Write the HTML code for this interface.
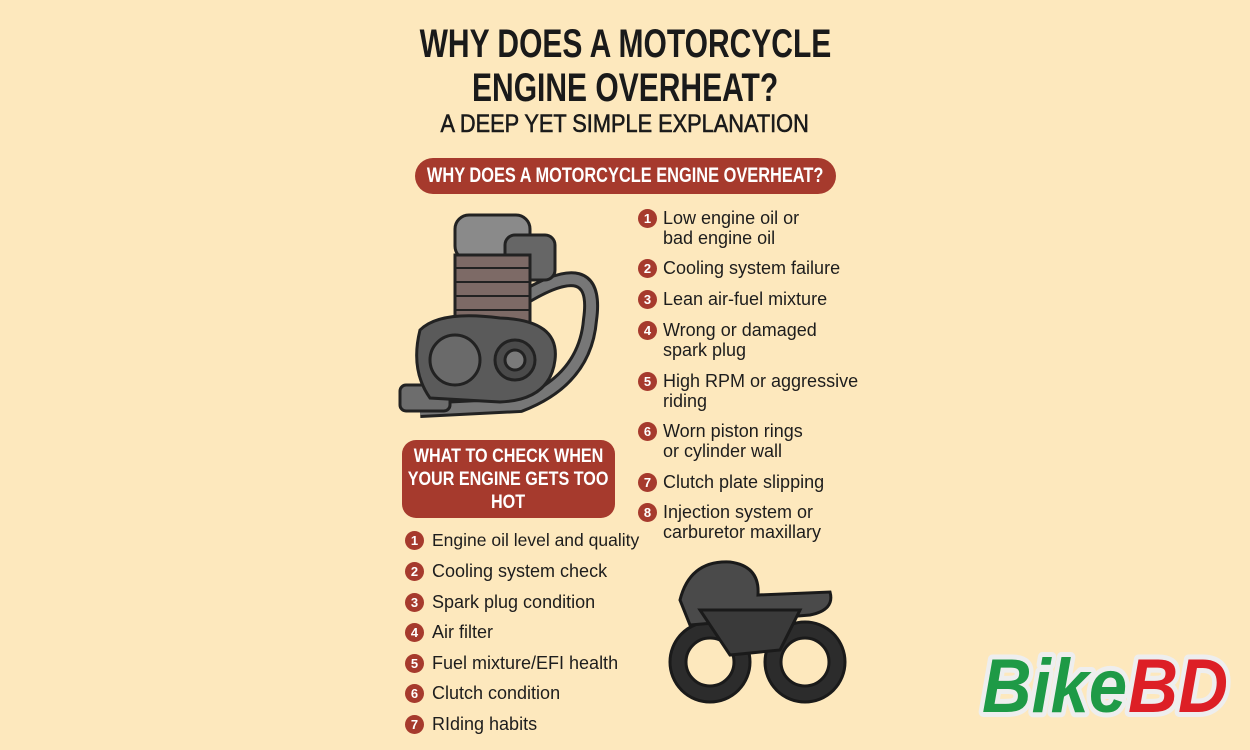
<!DOCTYPE html>
<html><head><meta charset="utf-8"><style>
body{margin:0;width:1250px;height:750px;background:#fde8bd;position:relative;overflow:hidden;font-family:"Liberation Sans",sans-serif;color:#1a1a1a}
.t{position:absolute;left:0;width:1250px;text-align:center;font-weight:bold;white-space:nowrap}
.s{display:inline-block;white-space:nowrap}
.pill{position:absolute;background:#a63a2d;color:#fff;font-weight:bold;border-radius:18px;white-space:nowrap;display:flex;flex-direction:column;align-items:center;justify-content:center}
.pill .s{flex:none}
.it{position:absolute;font-size:18px;line-height:20px;color:#1d1d1d}
.n{position:absolute;width:19px;height:19px;border-radius:50%;background:#a63a2d;color:#fff;font-size:13px;font-weight:bold;text-align:center;line-height:19px}
</style></head><body>
<div class="t" style="top:22px;font-size:40px;line-height:44px"><span class="s" style="transform:scaleX(0.75)">WHY DOES A MOTORCYCLE</span><br><span class="s" style="transform:scaleX(0.75)">ENGINE OVERHEAT?</span></div>
<div class="t" style="top:110px;font-size:25px;line-height:28px;font-weight:normal;-webkit-text-stroke:0.6px #1a1a1a"><span class="s" style="transform:scaleX(0.87)">A DEEP YET SIMPLE EXPLANATION</span></div>
<div class="pill" style="left:415px;top:158px;width:421px;height:36px;font-size:21px"><span class="s" style="transform:scaleX(0.78)">WHY DOES A MOTORCYCLE ENGINE OVERHEAT?</span></div>
<div class="pill" style="left:402px;top:440px;width:213px;height:78px;border-radius:14px;font-size:19px;line-height:23px"><span class="s" style="transform:scaleX(0.85)">WHAT TO CHECK WHEN</span><span class="s" style="transform:scaleX(0.85)">YOUR ENGINE GETS TOO</span><span class="s" style="transform:scaleX(0.85)">HOT</span></div>

<div class="n" style="left:638px;top:209px">1</div><div class="it" style="left:663px;top:208px">Low engine oil or<br>bad engine oil</div>
<div class="n" style="left:638px;top:259px">2</div><div class="it" style="left:663px;top:258px">Cooling system failure</div>
<div class="n" style="left:638px;top:290px">3</div><div class="it" style="left:663px;top:289px">Lean air-fuel mixture</div>
<div class="n" style="left:638px;top:321px">4</div><div class="it" style="left:663px;top:320px">Wrong or damaged<br>spark plug</div>
<div class="n" style="left:638px;top:372px">5</div><div class="it" style="left:663px;top:371px">High RPM or aggressive<br>riding</div>
<div class="n" style="left:638px;top:422px">6</div><div class="it" style="left:663px;top:421px">Worn piston rings<br>or cylinder wall</div>
<div class="n" style="left:638px;top:473px">7</div><div class="it" style="left:663px;top:472px">Clutch plate slipping</div>
<div class="n" style="left:638px;top:503px">8</div><div class="it" style="left:663px;top:502px">Injection system or<br>carburetor maxillary</div>

<div class="n" style="left:405px;top:531px">1</div><div class="it" style="left:432px;top:530px;font-size:17.5px">Engine oil level and quality</div>
<div class="n" style="left:405px;top:562px">2</div><div class="it" style="left:432px;top:561px">Cooling system check</div>
<div class="n" style="left:405px;top:593px">3</div><div class="it" style="left:432px;top:592px">Spark plug condition</div>
<div class="n" style="left:405px;top:623px">4</div><div class="it" style="left:432px;top:622px">Air filter</div>
<div class="n" style="left:405px;top:654px">5</div><div class="it" style="left:432px;top:653px">Fuel mixture/EFI health</div>
<div class="n" style="left:405px;top:684px">6</div><div class="it" style="left:432px;top:683px">Clutch condition</div>
<div class="n" style="left:405px;top:715px">7</div><div class="it" style="left:432px;top:714px">RIding habits</div>

<svg style="position:absolute;left:0;top:0" width="1250" height="750">
<g stroke="#222" stroke-width="3">
<path d="M520 300 Q600 250 590 320 Q585 380 520 405 L420 410" fill="none" stroke="#222" stroke-width="16"/>
<path d="M520 300 Q600 250 590 320 Q585 380 520 405 L420 410" fill="none" stroke="#777" stroke-width="10"/>
<rect x="400" y="385" width="50" height="26" rx="6" fill="#6d6d6d"/>
<rect x="455" y="215" width="75" height="45" rx="14" fill="#8a8a8a"/>
<rect x="505" y="235" width="50" height="45" rx="10" fill="#666"/>
<rect x="455" y="255" width="75" height="70" fill="#7d6a66"/>
<g stroke-width="2"><line x1="455" y1="268" x2="530" y2="268"/><line x1="455" y1="282" x2="530" y2="282"/><line x1="455" y1="296" x2="530" y2="296"/><line x1="455" y1="310" x2="530" y2="310"/></g>
<path d="M420 330 Q440 310 500 318 Q560 320 555 360 Q550 400 500 402 L430 398 Q410 370 420 330Z" fill="#5a5a5a"/>
<circle cx="455" cy="360" r="25" fill="#6a6a6a"/>
<circle cx="515" cy="360" r="20" fill="#4a4a4a"/>
<circle cx="515" cy="360" r="10" fill="#7a7a7a"/>
</g>
<g stroke="#1a1a1a" stroke-width="3">
<circle cx="710" cy="662" r="40" fill="#2c2c2c"/><circle cx="710" cy="662" r="24" fill="#fde8bd"/>
<circle cx="805" cy="662" r="40" fill="#2c2c2c"/><circle cx="805" cy="662" r="24" fill="#fde8bd"/>
<path d="M680 600 Q690 560 730 562 Q760 566 758 595 L830 592 Q835 610 810 615 L690 625Z" fill="#4a4a4a"/>
<path d="M700 610 L800 610 L780 650 L730 655Z" fill="#3a3a3a"/>
</g>
<g font-family="Liberation Sans,sans-serif" font-weight="bold" font-style="italic" font-size="76" stroke="#eee" stroke-width="10" paint-order="stroke" stroke-linejoin="round">
<text x="982" y="712" fill="#1e9a46" textLength="145" lengthAdjust="spacingAndGlyphs">Bike</text>
<text x="1128" y="712" fill="#dd1f26" textLength="100" lengthAdjust="spacingAndGlyphs">BD</text>
</g>
</svg>
</body></html>
